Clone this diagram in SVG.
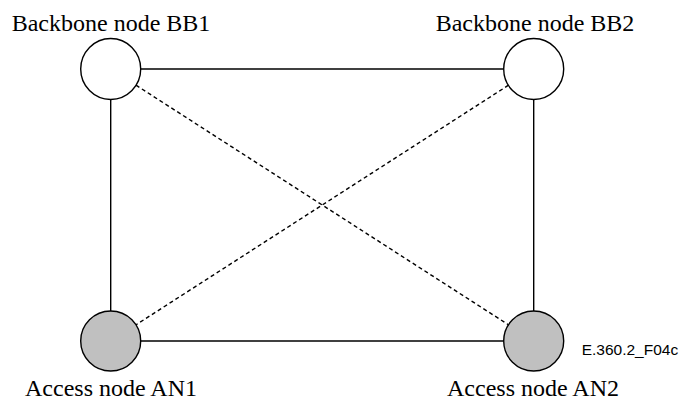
<svg xmlns="http://www.w3.org/2000/svg" width="683" height="400" viewBox="0 0 683 400">
<style>
.lbl{font-family:"Liberation Serif","Times New Roman",serif;font-size:24px;fill:#000;text-anchor:middle}
.tag{font-family:"Liberation Sans",Arial,sans-serif;font-size:15.5px;fill:#000}
.node{stroke:#000;stroke-width:1.4}
.bb{fill:#fff}
.an{fill:#c0c0c0}
.solid{stroke:#000;stroke-width:1.4;fill:none}
.dash{stroke:#000;stroke-width:1.4;fill:none;stroke-dasharray:4 3}
</style>
<rect width="683" height="400" fill="#fff"/>
<g id="connectors">
<line class="solid" x1="140.7" y1="69" x2="503.5" y2="69"/>
<line class="solid" x1="140.7" y1="341" x2="503.5" y2="341"/>
<line class="solid" x1="110.7" y1="99.5" x2="110.7" y2="311"/>
<line class="solid" x1="533.7" y1="99.5" x2="533.7" y2="311"/>
<line class="dash" x1="136" y1="85.2" x2="508.5" y2="324.8"/>
<line class="dash" x1="508.5" y1="85.2" x2="136" y2="324.8"/>
</g>
<g id="BB1">
<ellipse class="node bb" cx="110.7" cy="69" rx="30" ry="30.5"/>
<text class="lbl" x="111" y="31">Backbone node BB1</text>
</g>
<g id="BB2">
<ellipse class="node bb" cx="533.7" cy="69" rx="30" ry="30.5"/>
<text class="lbl" x="535" y="31">Backbone node BB2</text>
</g>
<g id="AN1">
<ellipse class="node an" cx="110.7" cy="341" rx="30" ry="30"/>
<text class="lbl" x="111" y="396">Access node AN1</text>
</g>
<g id="AN2">
<ellipse class="node an" cx="533.7" cy="341" rx="30" ry="30"/>
<text class="lbl" x="533" y="396">Access node AN2</text>
</g>
<text class="tag" x="581.7" y="355">E.360.2_F04c</text>
</svg>
